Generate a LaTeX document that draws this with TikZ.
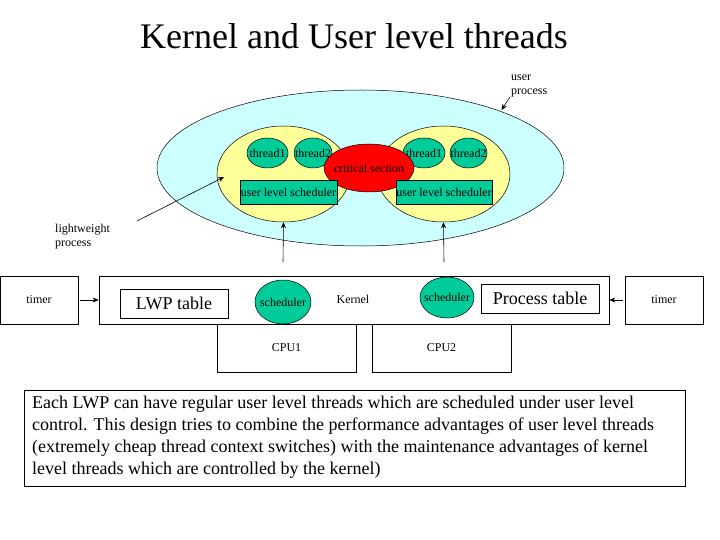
\documentclass[tikz,border=0pt]{standalone}
\usepackage{fontspec}
\setmainfont{Liberation Serif}
\usetikzlibrary{arrows.meta,shapes.geometric}
\definecolor{procfill}{HTML}{CCFFFF}
\definecolor{lwpfill}{HTML}{FFFF99}
\definecolor{thrfill}{HTML}{00CC99}
\definecolor{critfill}{HTML}{FF0000}
\tikzset{
  ell/.style={ellipse,draw=black,line width=0.5pt,inner sep=0pt},
  boxn/.style={draw=black,line width=0.6pt,inner sep=0pt,rectangle},
  small/.style={font=\fontsize{12}{14}\selectfont},
  lab/.style={label={[small,inner sep=0pt]center:#1}},
  arr/.style={-{Stealth[length=6pt,width=5pt]},line width=0.6pt},
}
\begin{document}
\begin{tikzpicture}[x=1pt,y=-1pt]
\useasboundingbox (0,0) rectangle (720,540);
% title
\node[font=\fontsize{36}{40}\selectfont] (title) at (354,36) {Kernel and User level threads};
% user process
\node[ell,fill=procfill,minimum width=407,minimum height=156] (proc) at (360.5,168) {};
\node[ell,fill=lwpfill,minimum width=133,minimum height=96] (lwpL) at (283.5,174) {};
\node[ell,fill=lwpfill,minimum width=133,minimum height=96] (lwpR) at (443.5,174) {};
\node[ell,fill=thrfill,minimum width=41,minimum height=30,lab=thread1] (t1L) at (267.5,153) {};
\node[ell,fill=thrfill,minimum width=38,minimum height=30,lab=thread2] (t2L) at (313,153) {};
\node[ell,fill=thrfill,minimum width=42,minimum height=30,lab=thread1] (t1R) at (424,153) {};
\node[ell,fill=thrfill,minimum width=37,minimum height=30,lab=thread2] (t2R) at (468.5,153) {};
\node[ell,fill=critfill,minimum width=90,minimum height=48,lab=critical section] (crit) at (369,168) {};
\node[boxn,fill=thrfill,minimum width=97,minimum height=24,lab=user level scheduler] (uslL) at (288.5,192) {};
\node[boxn,fill=thrfill,minimum width=96,minimum height=24,lab=user level scheduler] (uslR) at (444,192) {};
% labels
\node[small,align=left,anchor=north west,inner sep=0pt] (uplab) at (511,75) {user\\process};
\node[small,align=left,anchor=north west,inner sep=0pt] (lwlab) at (55,224) {lightweight\\process};
\coordinate (upfrom) at (510,97);
\coordinate (upto) at (501.5,110);
\draw[arr] (upfrom) -- (upto);
\coordinate (lwfrom) at (137,221);
\coordinate (lwto) at (224,177);
\draw[arr] (lwfrom) -- (lwto);
% kernel row
\node[boxn,minimum width=78,minimum height=48,small] (timerL) at (39,300) {timer};
\node[boxn,minimum width=510,minimum height=48] (kern) at (354,300) {};
\node[small] (klab) at (353,299) {Kernel};
\node[boxn,minimum width=78,minimum height=48,small] (timerR) at (664,300) {timer};
\node[boxn,minimum width=108,minimum height=29,font=\fontsize{18}{20}\selectfont] (lwpt) at (174,303.5) {LWP table};
\node[boxn,minimum width=118,minimum height=29,font=\fontsize{18}{20}\selectfont] (proct) at (540,298.5) {Process table};
\node[ell,fill=thrfill,minimum width=56,minimum height=44,lab=scheduler] (schL) at (283,302) {};
\node[ell,fill=thrfill,minimum width=54,minimum height=41,lab=scheduler] (schR) at (447,297.5) {};
\node[boxn,minimum width=139,minimum height=48,small] (cpu1) at (286.5,348) {CPU1};
\node[boxn,minimum width=139,minimum height=48,small] (cpu2) at (441.5,348) {CPU2};
\draw[arr] (timerL.east) ++(2,0) -- (kern.west);
\draw[arr] (timerR.west) ++(-2,0) -- (kern.east);
\coordinate (upL) at (283,262);
\coordinate (upR) at (444,262);
\draw[arr] (upL) -- (lwpL.south);
\draw[arr] (upR) -- (lwpR.south);
% description
\node[boxn,minimum width=661,minimum height=96] (desc) at (354.5,438) {};
\node[anchor=north west,inner sep=0pt,align=left,font=\fontsize{18}{22}\selectfont] (desctext) at (32,396) {Each LWP can have regular user level threads which are scheduled under user level\\control. This design tries to combine the performance advantages of user level threads\\(extremely cheap thread context switches) with the maintenance advantages of kernel\\level threads which are controlled by the kernel)};
\end{tikzpicture}
\end{document}
